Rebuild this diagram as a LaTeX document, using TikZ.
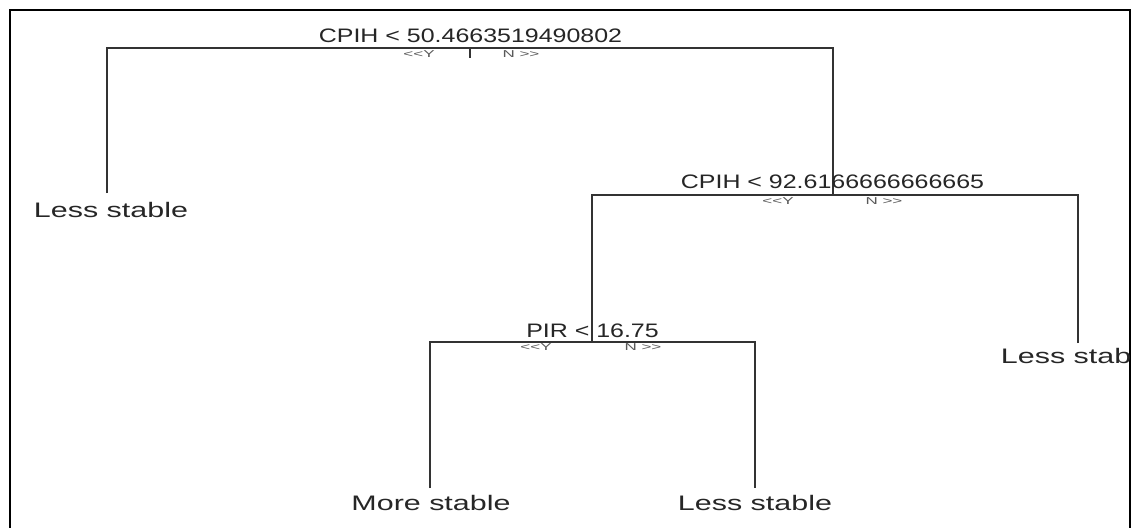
\documentclass[tikz,border=0pt]{standalone}
\usepackage{fontspec}
\newfontfamily\splitf[FakeStretch=1.28]{Liberation Sans}
\newfontfamily\leaff[FakeStretch=1.45]{Liberation Sans}
\newfontfamily\ynf[FakeStretch=1.7]{Liberation Sans}
\begin{document}
\begin{tikzpicture}[x=1pt,y=-1pt,
  splitlab/.style={anchor=base, inner sep=0pt, font=\splitf\fontsize{19.5}{20}\selectfont, text=black!85},
  leaflab/.style={anchor=base, inner sep=0pt, font=\leaff\fontsize{21}{22}\selectfont, text=black!85},
  yn/.style={anchor=base, inner sep=0pt, font=\ynf\fontsize{10}{11}\selectfont, text=black!65},
  edge/.style={line width=1.3pt, draw=black!80},
  frame/.style={line width=1.5pt, draw=black}]
\useasboundingbox (0,0) rectangle (1134,527);
\clip (0,0) rectangle (1134,527);
\fill[white] (0,0) rectangle (1134,527);
\draw[frame] (10,540) -- (10,10) -- (1130,10) -- (1130,540);

% split 1
\coordinate (s1L) at (107,48);
\coordinate (s1R) at (833,48);
\coordinate (s1M) at (470,48);
\coordinate (s1T) at (470,58);
% split 2
\coordinate (s2L) at (592,195);
\coordinate (s2R) at (1078,195);
\coordinate (s2M) at (833,195);
% split 3
\coordinate (s3L) at (430,342);
\coordinate (s3R) at (755,342);
\coordinate (s3M) at (592,342);
% leaf tops
\coordinate (l1top) at (107,193);
\coordinate (l2top) at (1078,343);
\coordinate (l3top) at (430,488);
\coordinate (l4top) at (755,488);

\draw[edge] (l1top) -- (s1L) -- (s1R) -- (s2M);
\draw[edge] (s1M) -- (s1T);
\draw[edge] (l2top) -- (s2R) -- (s2L) -- (s3M);
\draw[edge] (l3top) -- (s3L) -- (s3R) -- (l4top);

\node[splitlab] (t1) at (470.5,42) {CPIH < 50.4663519490802};
\node[yn] (y1) at (419,57) {<<Y};
\node[yn] (n1) at (521,57) {N >>};

\node[splitlab] (t2) at (832.5,188) {CPIH < 92.6166666666665};
\node[yn] (y2) at (778,204) {<<Y};
\node[yn] (n2) at (884,204) {N >>};

\node[splitlab] (t3) at (592.5,337) {PIR < 16.75};
\node[yn] (y3) at (536,350) {<<Y};
\node[yn] (n3) at (643,350) {N >>};

\node[leaflab] (L1) at (111,217) {Less stable};
\node[leaflab] (L3) at (431,510) {More stable};
\node[leaflab] (L4) at (755,510) {Less stable};
\begin{scope}
  \clip (0,0) rectangle (1129,527);
  \node[leaflab] (L2) at (1078,363) {Less stable};
\end{scope}
\end{tikzpicture}
\end{document}
